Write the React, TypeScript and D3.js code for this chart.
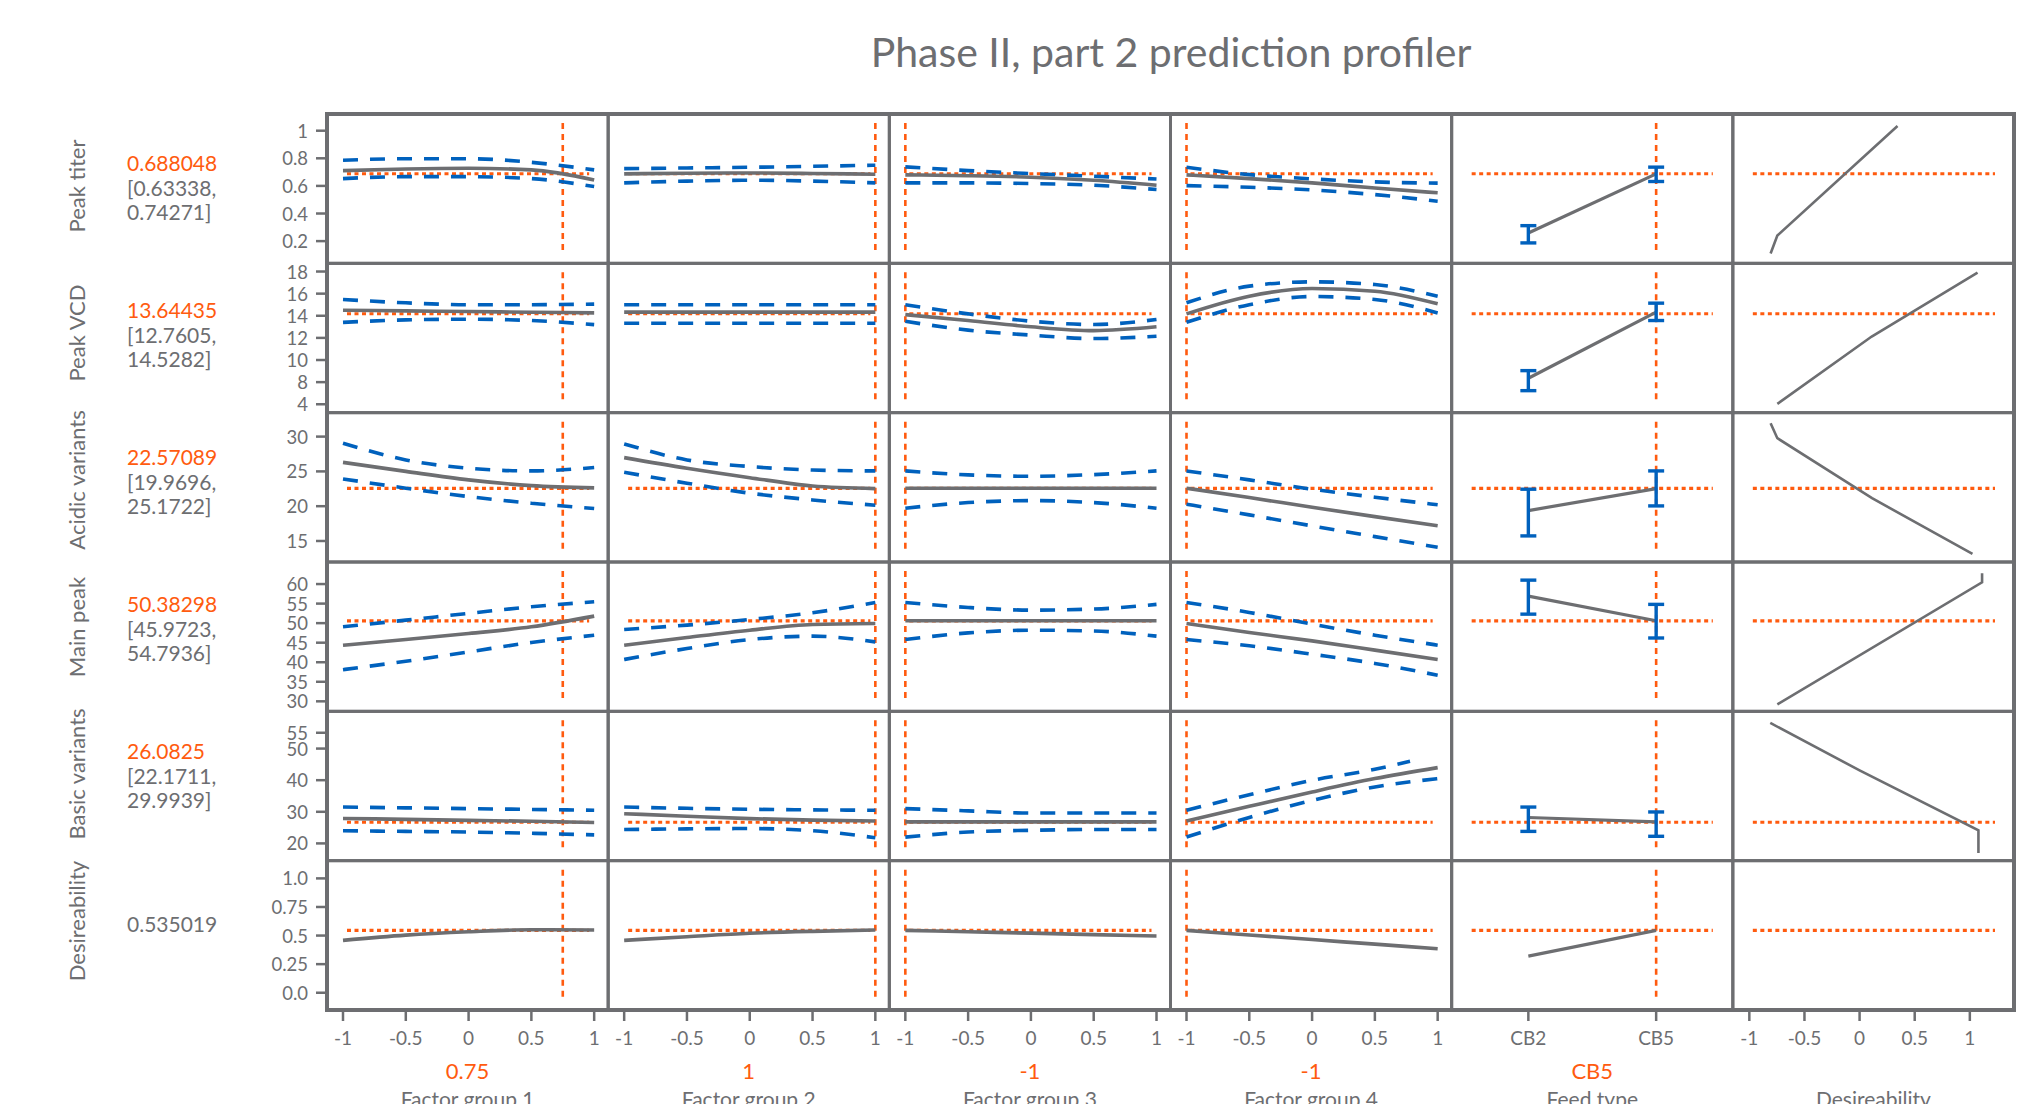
import React from "react";
import * as d3 from "d3";

const W = 2035, H = 1104;
const GREY = "#6d6e71";
const ORANGE = "#ff5b0f";
const BLUE = "#0061bd";
const FONT = "Lato, 'Noto Sans', sans-serif";

// ---------- data ----------
const title = "Phase II, part 2 prediction profiler";
const responses = ["Peak titer", "Peak VCD", "Acidic variants", "Main peak", "Basic variants", "Desireability"];
const factors = ["Factor group 1", "Factor group 2", "Factor group 3", "Factor group 4", "Feed type", "Desireability"];
const currentSettingText = ["0.75", "1", "-1", "-1", "CB5"];
const currentX = [0.75, 1, -1, -1];
const feedLevels = ["CB2", "CB5"];
const currentFeed = "CB5";
const predictedText = ["0.688048", "13.64435", "22.57089", "50.38298", "26.0825", "0.535019"];
const intervalText = [
  ["[0.63338,", "0.74271]"],
  ["[12.7605,", "14.5282]"],
  ["[19.9696,", "25.1722]"],
  ["[45.9723,", "54.7936]"],
  ["[22.1711,", "29.9939]"],
  [],
];
const currentLevel = [0.688, 14.18, 22.57, 50.6, 26.7, 0.545];

const yDomains = [[0.039, 1.121], [5.24, 18.74], [11.98, 33.44], [27.44, 65.64], [14.54, 61.78], [-0.151, 1.155]];
const yTicks = [
  [1, 0.8, 0.6, 0.4, 0.2],
  [18, 16, 14, 12, 10, 8, 6],
  [30, 25, 20, 15],
  [60, 55, 50, 45, 40, 35, 30],
  [55, 50, 40, 30, 20],
  [1, 0.75, 0.5, 0.25, 0],
];
const yTickLabels = [
  ["1", "0.8", "0.6", "0.4", "0.2"],
  ["18", "16", "14", "12", "10", "8", "4"],
  ["30", "25", "20", "15"],
  ["60", "55", "50", "45", "40", "35", "30"],
  ["55", "50", "40", "30", "20"],
  ["1.0", "0.75", "0.5", "0.25", "0.0"],
];
const xLevels = [-1, -0.5, 0, 0.5, 1];
const xTickLabels = ["-1", "-0.5", "0", "0.5", "1"];
const desTicks = [-1, -0.5, 0, 0.5, 1];

// profiles: per factor group (4), values at xLevels
const peakTiterPred = [[0.711, 0.723, 0.728, 0.716, 0.643], [0.687, 0.692, 0.694, 0.69, 0.685], [0.68, 0.674, 0.663, 0.641, 0.605], [0.68, 0.653, 0.622, 0.585, 0.55]];
const peakTiterLo = [[0.653, 0.667, 0.667, 0.653, 0.595], [0.622, 0.635, 0.641, 0.635, 0.622], [0.622, 0.622, 0.617, 0.605, 0.574], [0.602, 0.59, 0.571, 0.537, 0.489]];
const peakTiterHi = [[0.786, 0.797, 0.797, 0.771, 0.716], [0.725, 0.73, 0.735, 0.742, 0.75], [0.738, 0.711, 0.689, 0.67, 0.65], [0.735, 0.682, 0.651, 0.629, 0.62]];

const peakVcdPred = [[14.5, 14.44, 14.38, 14.32, 14.26], [14.33, 14.33, 14.33, 14.33, 14.33], [14.1, 13.57, 13.0, 12.66, 13.0], [14.17, 15.77, 16.46, 16.22, 15.08]];
const peakVcdLo = [[13.4, 13.63, 13.69, 13.57, 13.2], [13.33, 13.33, 13.33, 13.33, 13.33], [13.5, 12.7, 12.25, 11.94, 12.15], [13.42, 15.0, 15.74, 15.47, 14.26]];
const peakVcdHi = [[15.47, 15.17, 15.0, 15.0, 15.05], [14.99, 14.99, 14.99, 14.99, 14.99], [15.0, 14.17, 13.51, 13.21, 13.66], [15.17, 16.68, 17.07, 16.82, 15.77]];

const acidicPred = [[26.3, 25.0, 23.78, 22.96, 22.63], [26.98, 25.45, 24.1, 22.9, 22.53], [22.58, 22.58, 22.58, 22.58, 22.58], [22.58, 21.24, 19.85, 18.5, 17.2]];
const acidicLo = [[23.92, 22.59, 21.38, 20.43, 19.66], [24.88, 23.3, 21.87, 20.9, 20.14], [19.71, 20.52, 20.8, 20.52, 19.71], [20.29, 18.75, 17.17, 15.63, 14.1]];
const acidicHi = [[29.05, 26.65, 25.45, 25.07, 25.55], [28.95, 26.65, 25.7, 25.2, 25.07], [25.07, 24.5, 24.3, 24.54, 25.07], [25.07, 23.78, 22.44, 21.29, 20.2]];

const mainPeakPred = [[44.36, 45.8, 47.35, 49.06, 51.8], [44.36, 46.33, 48.2, 49.66, 49.9], [50.6, 50.6, 50.6, 50.6, 50.6], [49.9, 47.6, 45.46, 43.1, 40.7]];
const mainPeakLo = [[38.1, 40.26, 42.65, 45.05, 46.9], [40.7, 43.5, 45.8, 46.67, 45.2], [45.8, 47.5, 48.2, 48.0, 46.67], [45.8, 44.2, 42.05, 39.7, 36.67]];
const mainPeakHi = [[49.06, 50.77, 52.5, 54.2, 55.46], [48.38, 49.5, 50.94, 52.65, 55.3], [55.3, 54.0, 53.33, 53.6, 54.8], [55.3, 52.74, 49.74, 46.9, 44.36]];

const basicPred = [[27.9, 27.6, 27.3, 27.0, 26.6], [29.4, 28.6, 27.85, 27.35, 27.1], [26.8, 26.8, 26.8, 26.8, 26.8], [27.1, 31.74, 36.27, 40.5, 43.98]];
const basicLo = [[24.0, 23.8, 23.6, 23.2, 22.7], [24.4, 24.6, 24.7, 24.0, 21.8], [22.0, 23.6, 24.15, 24.4, 24.4], [22.0, 28.2, 33.6, 37.85, 40.5]];
const basicHi = [[31.5, 31.25, 31.0, 30.75, 30.5], [31.5, 31.1, 30.8, 30.6, 30.5], [31.0, 30.3, 29.6, 29.6, 29.6], [30.5, 35.4, 39.97, 43.45, 46.0]];
const basicHiFg4X = [-1, -0.5, 0, 0.5, 0.78];

const desirPred = [[0.458, 0.504, 0.533, 0.551, 0.548], [0.458, 0.49, 0.52, 0.537, 0.548], [0.545, 0.533, 0.521, 0.508, 0.496], [0.545, 0.505, 0.465, 0.425, 0.385]];

const predProfiles = [peakTiterPred, peakVcdPred, acidicPred, mainPeakPred, basicPred, desirPred];
const loProfiles = [peakTiterLo, peakVcdLo, acidicLo, mainPeakLo, basicLo, null];
const hiProfiles = [peakTiterHi, peakVcdHi, acidicHi, mainPeakHi, basicHi, null];

const feedPred = [[0.259, 0.687], [8.35, 14.33], [19.37, 22.53], [56.9, 50.6], [28.2, 26.8], [0.32, 0.545]];
const feedLo = [[0.187, 0.632], [7.23, 13.57], [15.73, 20.04], [52.3, 46.2], [23.8, 22.25], null];
const feedHi = [[0.312, 0.736], [9.04, 15.14], [22.44, 25.07], [61.0, 54.8], [31.5, 29.95], null];

// desirability functions: [desirability, response]
const desFunctions = [
  [[-0.807, 0.11], [-0.746, 0.24], [0.344, 1.034]],
  [[-0.746, 6.03], [0.11, 12.12], [1.07, 17.9]],
  [[-0.807, 31.93], [-0.746, 29.77], [0.113, 21.15], [1.024, 13.15]],
  [[-0.746, 29.2], [1.111, 60.44], [1.111, 62.74]],
  [[-0.81, 58.1], [0.0, 43.1], [1.078, 24.15], [1.078, 17.0]],
  [],
];

// ---------- layout ----------
const gridLeft = 327, gridRight = 2014, gridTop = 114, gridBottom = 1010;
const colW = (gridRight - gridLeft) / 6;
const rowH = (gridBottom - gridTop) / 6;
const colX0 = (c: number) => gridLeft + c * colW;
const rowY0 = (r: number) => gridTop + r * rowH;

export default function App() {
  const xScales = d3.range(4).map((c) =>
    d3.scaleLinear().domain([-1, 1]).range([colX0(c) + 16, colX0(c) + colW - 14])
  );
  const feedScale = d3.scalePoint<string>().domain(feedLevels).range([colX0(4), colX0(5)]).padding(0.6);
  const desScale = d3.scaleLinear().domain([-1, 1]).range([colX0(5) + 16.5, colX0(5) + 237]);
  const yScales = yDomains.map((dm, r) =>
    d3.scaleLinear().domain(dm).range([rowY0(r) + rowH, rowY0(r)])
  );
  const smooth = d3.line<[number, number]>().curve(d3.curveMonotoneX);
  const straight = d3.line<[number, number]>();

  const panels: JSX.Element[] = [];
  for (let r = 0; r < 6; r++) {
    const y = yScales[r];
    const top = rowY0(r), bot = rowY0(r) + rowH;
    for (let c = 0; c < 4; c++) {
      const x = xScales[c];
      const x0 = colX0(c), x1 = colX0(c) + colW;
      const pts = (vals: number[], xs = xLevels) => vals.map((v, i) => [x(xs[i]), y(v)] as [number, number]);
      panels.push(
        <g key={`p${r}-${c}`}>
          <line x1={x0 + 20} x2={x1 - 19} y1={y(currentLevel[r])} y2={y(currentLevel[r])} stroke={ORANGE} strokeWidth={3.2} strokeDasharray="4 3.5" />
          <line x1={x(currentX[c])} x2={x(currentX[c])} y1={top + 9} y2={bot - 10} stroke={ORANGE} strokeWidth={2.6} strokeDasharray="6 5" />
          {loProfiles[r] && (
            <path d={smooth(pts(loProfiles[r]![c]))!} fill="none" stroke={BLUE} strokeWidth={3.6} strokeDasharray="15 12" />
          )}
          {hiProfiles[r] && (
            <path d={smooth(pts(hiProfiles[r]![c], r === 4 && c === 3 ? basicHiFg4X : xLevels))!} fill="none" stroke={BLUE} strokeWidth={3.6} strokeDasharray="15 12" />
          )}
          <path d={smooth(pts(predProfiles[r][c]))!} fill="none" stroke={GREY} strokeWidth={3.6} />
        </g>
      );
    }
    {
      const x0 = colX0(4), x1 = colX0(5);
      const fp = feedPred[r];
      panels.push(
        <g key={`f${r}`}>
          <line x1={x0 + 20} x2={x1 - 20} y1={y(currentLevel[r])} y2={y(currentLevel[r])} stroke={ORANGE} strokeWidth={3.2} strokeDasharray="4 3.5" />
          <line x1={feedScale(currentFeed)!} x2={feedScale(currentFeed)!} y1={top + 9} y2={bot - 10} stroke={ORANGE} strokeWidth={2.6} strokeDasharray="6 5" />
          <path d={straight(feedLevels.map((l, i) => [feedScale(l)!, y(fp[i])] as [number, number]))!} fill="none" stroke={GREY} strokeWidth={3.2} />
          {feedLo[r] &&
            feedLevels.map((l, i) => {
              const fx = feedScale(l)!;
              const ylo = y(feedLo[r]![i]), yhi = y(feedHi[r]![i]);
              return (
                <g key={l} stroke={BLUE} strokeWidth={3.4}>
                  <line x1={fx} x2={fx} y1={ylo} y2={yhi} />
                  <line x1={fx - 8} x2={fx + 8} y1={ylo} y2={ylo} />
                  <line x1={fx - 8} x2={fx + 8} y1={yhi} y2={yhi} />
                </g>
              );
            })}
        </g>
      );
    }
    {
      const x0 = colX0(5), x1 = gridRight;
      const df = desFunctions[r];
      panels.push(
        <g key={`d${r}`}>
          <line x1={x0 + 20} x2={x1 - 19} y1={y(currentLevel[r])} y2={y(currentLevel[r])} stroke={ORANGE} strokeWidth={3.2} strokeDasharray="4 3.5" />
          {df.length > 0 && (
            <path d={straight(df.map(([dx, dy]) => [desScale(dx), y(dy)] as [number, number]))!} fill="none" stroke={GREY} strokeWidth={2.6} />
          )}
        </g>
      );
    }
  }

  const labelCenter = (r: number) => gridTop + 72 + r * 147;

  return (
    <svg width={W} height={H} style={{ position: "absolute", left: 0, top: 0, background: "#fff" }} fontFamily={FONT}>
      <rect x={0} y={0} width={W} height={H} fill="#fff" />
      <text x={1171} y={51} textAnchor="middle" dominantBaseline="central" fontSize={41} fill={GREY}>{title}</text>

      {responses.map((name, r) => {
        const cy = labelCenter(r);
        const lines = intervalText[r];
        return (
          <g key={name}>
            <text transform={`translate(76,${cy}) rotate(-90)`} textAnchor="middle" dominantBaseline="central" fontSize={22} fill={GREY}>{name}</text>
            {lines.length > 0 ? (
              <>
                <text x={127} y={cy - 24} dominantBaseline="central" fontSize={21} fill={ORANGE}>{predictedText[r]}</text>
                <text x={127} y={cy + 1} dominantBaseline="central" fontSize={21} fill={GREY}>{lines[0]}</text>
                <text x={127} y={cy + 25} dominantBaseline="central" fontSize={21} fill={GREY}>{lines[1]}</text>
              </>
            ) : (
              <text x={127} y={cy + 2} dominantBaseline="central" fontSize={21} fill={GREY}>{predictedText[r]}</text>
            )}
          </g>
        );
      })}

      {yScales.map((y, r) => (
        <g key={`ya${r}`}>
          {yTicks[r].map((t, i) => (
            <g key={i}>
              <line x1={gridLeft - 11} x2={gridLeft} y1={y(t)} y2={y(t)} stroke={GREY} strokeWidth={2.5} />
              <text x={gridLeft - 19} y={y(t)} textAnchor="end" dominantBaseline="central" fontSize={18.5} fill={GREY}>{yTickLabels[r][i]}</text>
            </g>
          ))}
        </g>
      ))}

      {panels}

      {d3.range(6).map((r) =>
        d3.range(6).map((c) => (
          <rect key={`g${r}-${c}`} x={colX0(c)} y={rowY0(r)} width={colW} height={rowH} fill="none" stroke={GREY} strokeWidth={3} />
        ))
      )}
      <rect x={gridLeft} y={gridTop} width={gridRight - gridLeft} height={gridBottom - gridTop} fill="none" stroke={GREY} strokeWidth={4} />

      {xScales.map((x, c) => (
        <g key={`xa${c}`}>
          {xLevels.map((t, i) => (
            <g key={i}>
              <line x1={x(t)} x2={x(t)} y1={gridBottom} y2={gridBottom + 11} stroke={GREY} strokeWidth={2.5} />
              <text x={x(t)} y={gridBottom + 27} textAnchor="middle" dominantBaseline="central" fontSize={19} fill={GREY}>{xTickLabels[i]}</text>
            </g>
          ))}
        </g>
      ))}
      {feedLevels.map((l) => (
        <g key={`fx${l}`}>
          <line x1={feedScale(l)!} x2={feedScale(l)!} y1={gridBottom} y2={gridBottom + 11} stroke={GREY} strokeWidth={2.5} />
          <text x={feedScale(l)!} y={gridBottom + 27} textAnchor="middle" dominantBaseline="central" fontSize={19} fill={GREY}>{l}</text>
        </g>
      ))}
      {desTicks.map((t, i) => (
        <g key={`dx${i}`}>
          <line x1={desScale(t)} x2={desScale(t)} y1={gridBottom} y2={gridBottom + 11} stroke={GREY} strokeWidth={2.5} />
          <text x={desScale(t)} y={gridBottom + 27} textAnchor="middle" dominantBaseline="central" fontSize={19} fill={GREY}>{xTickLabels[i]}</text>
        </g>
      ))}

      {factors.map((f, c) => {
        const cx = colX0(c) + colW / 2;
        return (
          <g key={f + c}>
            {c < 5 && (
              <text x={cx} y={1070} textAnchor="middle" dominantBaseline="central" fontSize={22} fill={ORANGE}>{currentSettingText[c]}</text>
            )}
            <text x={cx} y={1107} textAnchor="middle" fontSize={21} fill={GREY}>{f}</text>
          </g>
        );
      })}
    </svg>
  );
}
